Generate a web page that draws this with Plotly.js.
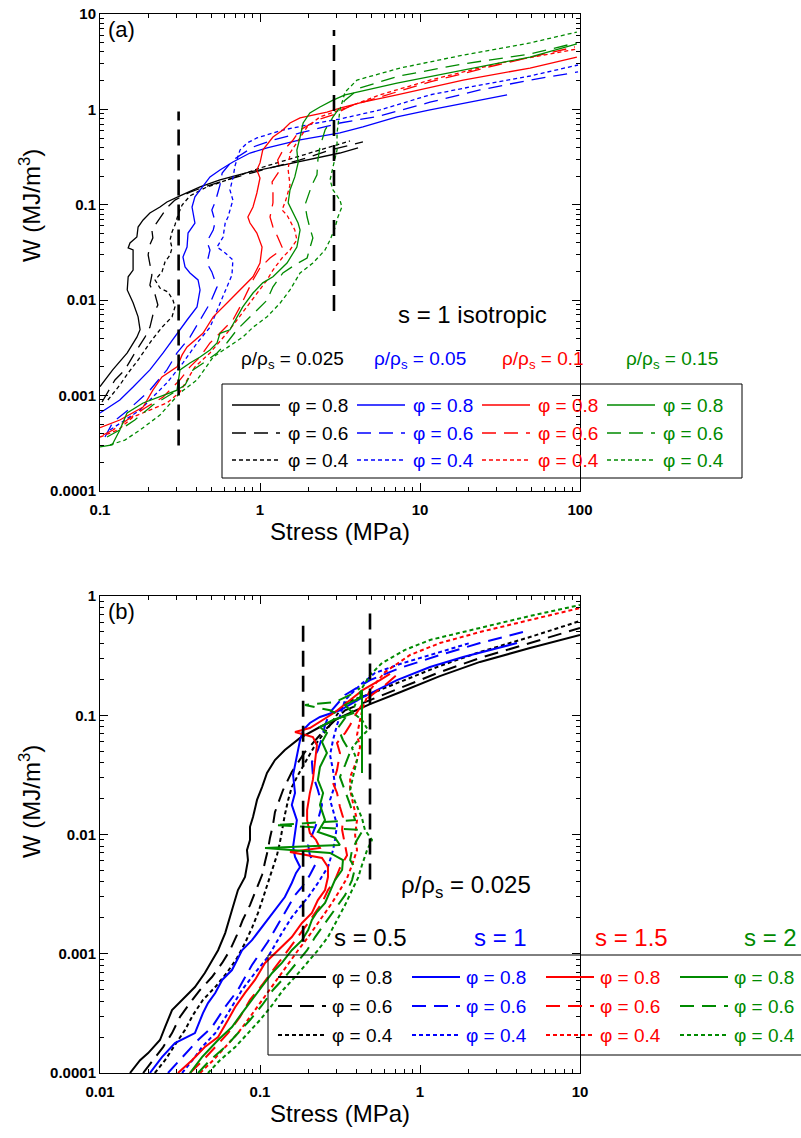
<!DOCTYPE html>
<html>
<head>
<meta charset="utf-8">
<script src="https://cdn.plot.ly/plotly-3.0.1.min.js"></script>
<style>html,body{margin:0;padding:0;background:#fff;}</style>
</head>
<body>
<div id="chart" style="width:801px;height:1138px;"></div>
<script>
// ---------------- Panel (a): s = 1 isotropic ----------------
// rho/rho_s = 0.025 (black)
const aK08x = [0.1,0.12,0.148,0.17,0.178,0.173,0.161,0.148,0.15,0.161,0.161,0.161,0.15,0.154,0.17,0.173,0.186,0.205,0.237,0.262,0.316,0.422,0.562,0.866,1.39,2.27,3.16,4.1];
const aK08y = [0.00124,0.00186,0.0028,0.0041,0.0049,0.0067,0.0094,0.0128,0.0176,0.0207,0.0245,0.0336,0.0353,0.0398,0.046,0.0585,0.0693,0.0821,0.0948,0.107,0.124,0.154,0.182,0.221,0.261,0.309,0.349,0.394];
const aK06x = [0.103,0.124,0.143,0.165,0.191,0.205,0.214,0.23,0.221,0.205,0.211,0.205,0.2,0.205,0.214,0.211,0.227,0.244,0.262,0.294,0.365,0.487,0.75,1.155,1.78,2.74,4.4];
const aK06y = [0.000857,0.00146,0.00186,0.0028,0.0041,0.0052,0.007,0.0089,0.0114,0.0144,0.0184,0.0252,0.0298,0.038,0.045,0.0545,0.066,0.078,0.093,0.112,0.136,0.161,0.2,0.243,0.295,0.375,0.456];
const aK04x = [0.112,0.133,0.15,0.173,0.211,0.244,0.282,0.294,0.286,0.266,0.237,0.221,0.244,0.255,0.274,0.282,0.274,0.282,0.294,0.307,0.326,0.365,0.452,0.649,1.0,1.78,2.74,3.65];
const aK04y = [0.0009,0.00129,0.00173,0.00236,0.00383,0.0052,0.0067,0.0085,0.01,0.0122,0.0134,0.0163,0.0198,0.0252,0.0298,0.0353,0.0428,0.052,0.0614,0.078,0.0995,0.124,0.15,0.187,0.243,0.325,0.403,0.467];
// rho/rho_s = 0.05 (blue)
const aB08x = [0.1,0.133,0.161,0.205,0.248,0.303,0.35,0.404,0.422,0.41,0.365,0.34,0.33,0.35,0.355,0.392,0.381,0.376,0.392,0.422,0.487,0.562,0.677,0.866,1.107,1.78,3.16,4.4,7.18,11.55,18.6,35];
const aB08y = [0.000657,0.0009,0.00123,0.00186,0.0028,0.0045,0.0062,0.0085,0.0128,0.0163,0.0193,0.0223,0.0284,0.0361,0.0506,0.0644,0.082,0.0948,0.121,0.143,0.196,0.232,0.281,0.349,0.394,0.478,0.566,0.654,0.833,0.986,1.16,1.42];
const aB06x = [0.1074,0.1206,0.15,0.205,0.262,0.303,0.365,0.422,0.487,0.539,0.5,0.466,0.487,0.466,0.51,0.525,0.5,0.525,0.562,0.58,0.677,0.904,1.205,1.78,3.16,5.62,11.55,23.7,48.7,97.2];
const aB06y = [0.000368,0.000529,0.000706,0.00114,0.00186,0.0028,0.0041,0.0062,0.0093,0.0138,0.0198,0.0245,0.0336,0.041,0.0545,0.066,0.0882,0.107,0.161,0.215,0.295,0.403,0.478,0.566,0.72,0.853,1.19,1.6,2.03,2.47];
const aB04x = [0.1155,0.143,0.178,0.211,0.262,0.33,0.404,0.487,0.562,0.62,0.668,0.677,0.606,0.539,0.588,0.606,0.631,0.677,0.649,0.677,0.7,0.75,0.83,0.956,1.39,2.27,3.16,5.62,11.55,23.7,48.7,97.2];
const aB04y = [0.000436,0.000555,0.000706,0.000944,0.00136,0.0022,0.00356,0.0052,0.0093,0.0138,0.0184,0.0264,0.0313,0.0361,0.046,0.0644,0.0745,0.112,0.143,0.191,0.261,0.375,0.444,0.502,0.608,0.72,0.793,0.986,1.42,1.8,2.24,2.92];
// rho/rho_s = 0.1 (red)
const aR08x = [0.1,0.133,0.186,0.214,0.244,0.303,0.326,0.35,0.44,0.51,0.62,0.75,0.904,1.0,1.03,0.956,0.866,0.84,0.904,0.956,1.0,0.956,1.0,1.04,1.107,1.205,1.39,1.54,1.78,2.14,2.62,3.16,4.4,7.18,18.6,48.7,95.6];
const aR08y = [0.000462,0.000555,0.00076,0.00114,0.00157,0.002,0.00267,0.00323,0.0045,0.0067,0.0093,0.0128,0.0176,0.0245,0.0361,0.0506,0.0644,0.0745,0.0948,0.133,0.191,0.232,0.275,0.375,0.424,0.513,0.608,0.72,0.813,0.874,0.939,1.03,1.19,1.42,2.03,2.71,3.54];
const aR06x = [0.1044,0.1206,0.1476,0.191,0.248,0.316,0.365,0.422,0.487,0.562,0.677,0.75,0.83,0.904,1.0,1.155,1.276,1.373,1.29,1.205,1.155,1.205,1.205,1.19,1.334,1.29,1.373,1.61,1.78,2.27,2.86,3.65,5.62,11.55,30.3,93];
const aR06y = [0.000386,0.000436,0.000555,0.000741,0.000967,0.00146,0.002,0.00254,0.00356,0.0045,0.0062,0.0085,0.0119,0.0163,0.0218,0.0277,0.0313,0.0361,0.046,0.0585,0.0745,0.105,0.143,0.174,0.232,0.295,0.358,0.478,0.608,0.774,0.874,1.08,1.35,1.94,2.92,4.51];
const aR04x = [0.1,0.1296,0.161,0.205,0.262,0.316,0.35,0.392,0.487,0.62,0.718,0.83,0.956,1.107,1.205,1.373,1.54,1.7,1.65,1.475,1.373,1.45,1.54,1.5,1.54,1.7,1.97,2.37,3.16,5.62,11.55,31.6,95.6];
const aR04y = [0.000368,0.000436,0.000597,0.000706,0.000837,0.00109,0.00146,0.002,0.0028,0.0045,0.0062,0.0085,0.0119,0.0163,0.0207,0.0277,0.0336,0.0428,0.0545,0.078,0.0882,0.112,0.161,0.232,0.349,0.444,0.654,0.833,0.986,1.42,2.03,3.06,4.3];
// rho/rho_s = 0.15 (green)
const aG08x = [0.1,0.119,0.133,0.1476,0.186,0.237,0.303,0.316,0.365,0.422,0.487,0.539,0.562,0.649,0.718,0.78,0.904,1.04,1.205,1.475,1.7,1.78,1.73,1.61,1.5,1.54,1.65,1.73,1.7,1.78,1.86,2.05,2.37,2.86,3.4,7.18,18.6,48.7,95.6];
const aG08y = [0.00029,0.000304,0.000436,0.000657,0.000837,0.000967,0.00114,0.00186,0.0022,0.00254,0.003,0.00356,0.0045,0.0049,0.0067,0.0085,0.0119,0.0152,0.0176,0.0245,0.0361,0.0545,0.0644,0.082,0.105,0.143,0.196,0.275,0.375,0.513,0.72,0.917,1.06,1.25,1.42,1.89,2.59,3.54,4.85];
const aG06x = [0.1106,0.133,0.165,0.214,0.274,0.34,0.381,0.452,0.539,0.62,0.718,0.83,0.956,1.107,1.205,1.39,1.65,1.97,2.05,2.14,2.05,1.97,1.91,2.0,2.11,2.27,2.3,2.37,2.55,2.86,3.4,4.22,7.5,18.6,48.7,95.6];
const aG06y = [0.000368,0.000436,0.000555,0.000797,0.00102,0.00129,0.00186,0.00225,0.0028,0.00356,0.0049,0.0062,0.0079,0.01,0.0138,0.0193,0.0234,0.0277,0.0353,0.045,0.0571,0.0745,0.0995,0.127,0.161,0.206,0.295,0.403,0.608,0.833,1.25,1.68,2.25,3.0,3.8,5.0];
const aG04x = [0.1155,0.143,0.178,0.237,0.316,0.404,0.51,0.631,0.78,0.904,1.107,1.334,1.54,1.78,2.14,2.55,2.74,2.94,3.07,3.25,3.16,2.86,2.74,2.86,3.03,3.03,3.16,3.4,4.04,7.5,18.6,48.7,95.6];
const aG04y = [0.000304,0.000342,0.000436,0.000626,0.00107,0.00146,0.00254,0.00323,0.0041,0.0052,0.0067,0.0093,0.0128,0.0193,0.0245,0.0336,0.0428,0.0571,0.0745,0.0948,0.112,0.143,0.182,0.25,0.375,0.566,0.986,1.52,2.03,2.71,3.71,4.97,6.47];
// vertical reference lines (a)
const aRef1x = [0.31,0.31], aRef1y = [0.0003,0.95];
const aRef2x = [2.9,2.9],   aRef2y = [0.0077,6.8];

// ---------------- Panel (b): rho/rho_s = 0.025 ----------------
// s = 0.5 (black)
const bK08x = [0.0154,0.0178,0.02,0.0237,0.0255,0.0282,0.034,0.0392,0.0452,0.0501,0.0547,0.0606,0.0631,0.0677,0.0728,0.0806,0.0841,0.0829,0.0866,0.0866,0.0904,0.0958,0.103,0.1106,0.124,0.143,0.178,0.237,0.34,0.487,0.75,1.33,2.37,4.87,10];
const bK08y = [0.0001,0.000128,0.000147,0.000189,0.000243,0.000337,0.000434,0.000526,0.00069,0.000886,0.00107,0.00149,0.00181,0.00247,0.00342,0.0044,0.0061,0.0074,0.009,0.0116,0.014,0.0195,0.025,0.0328,0.0421,0.0511,0.0645,0.0797,0.1,0.124,0.156,0.213,0.28,0.366,0.471];
const bK06x = [0.0186,0.0214,0.0248,0.0282,0.0316,0.0365,0.0422,0.0501,0.058,0.0649,0.0718,0.078,0.0866,0.0944,0.103,0.1075,0.112,0.1155,0.1205,0.124,0.1296,0.1393,0.158,0.191,0.237,0.34,0.487,0.75,1.33,2.37,4.87,10];
const bK06y = [0.0001,0.000128,0.000165,0.000216,0.000295,0.000386,0.000497,0.000638,0.000837,0.00107,0.00144,0.00192,0.00256,0.00342,0.00457,0.0059,0.0074,0.0094,0.012,0.0154,0.0184,0.0236,0.0334,0.0492,0.0683,0.11,0.134,0.169,0.23,0.302,0.403,0.539];
const bK04x = [0.022,0.0255,0.0294,0.034,0.0381,0.044,0.0525,0.062,0.0718,0.0806,0.0891,0.0972,0.1044,0.112,0.1205,0.1276,0.133,0.137,0.143,0.15,0.158,0.173,0.191,0.221,0.274,0.34,0.487,0.75,1.33,2.37,4.87,10];
const bK04y = [0.0001,0.000128,0.000172,0.00023,0.000306,0.00041,0.000526,0.00069,0.000921,0.00123,0.00165,0.0022,0.00293,0.00392,0.00524,0.0067,0.0085,0.0109,0.0146,0.0195,0.025,0.0316,0.0398,0.0563,0.0828,0.127,0.151,0.19,0.259,0.339,0.453,0.617];
// s = 1 (blue)
const bB08x = [0.0205,0.0244,0.0294,0.0392,0.044,0.0473,0.0525,0.058,0.0668,0.0772,0.0891,0.1075,0.124,0.143,0.158,0.168,0.178,0.1655,0.161,0.1655,0.17,0.158,0.1655,0.161,0.17,0.178,0.186,0.205,0.237,0.316,0.44,0.718,1.155,1.86,4.04];
const bB08y = [0.0001,0.000136,0.000178,0.000216,0.000318,0.000386,0.000469,0.000603,0.00073,0.00107,0.0013,0.00181,0.00233,0.00299,0.00392,0.00476,0.00534,0.0065,0.0079,0.0099,0.0132,0.0177,0.0223,0.0316,0.0447,0.062,0.0752,0.0861,0.0967,0.11,0.142,0.197,0.254,0.308,0.403];
const bB06x = [0.0266,0.0326,0.041,0.0501,0.0606,0.0728,0.0891,0.112,0.133,0.1655,0.183,0.205,0.221,0.205,0.2,0.211,0.23,0.244,0.23,0.214,0.211,0.23,0.244,0.255,0.274,0.34,0.487,0.75,1.33,2.37,4.4];
const bB06y = [0.0001,0.000136,0.000189,0.000243,0.000358,0.000497,0.000805,0.00126,0.00185,0.0031,0.00363,0.00457,0.00555,0.0067,0.00817,0.0099,0.0132,0.0177,0.0236,0.0316,0.0406,0.0511,0.0645,0.0828,0.106,0.148,0.197,0.249,0.32,0.403,0.499];
const bB04x = [0.0326,0.0392,0.0434,0.0525,0.0631,0.0772,0.093,0.112,0.137,0.158,0.2,0.23,0.266,0.286,0.294,0.303,0.286,0.274,0.294,0.286,0.274,0.286,0.303,0.34,0.422,0.523,0.75,1.33,2.05];
const bB04y = [0.0001,0.000136,0.000165,0.000216,0.000318,0.000497,0.00069,0.000939,0.00149,0.00203,0.00299,0.00392,0.00534,0.0074,0.009,0.012,0.016,0.0195,0.026,0.0347,0.0464,0.062,0.0828,0.134,0.179,0.226,0.269,0.339,0.403];
// s = 1.5 (red)
const bR08x = [0.0307,0.0376,0.0452,0.0547,0.0631,0.07,0.0806,0.093,0.1075,0.1296,0.158,0.183,0.211,0.23,0.255,0.266,0.266,0.244,0.154,0.237,0.224,0.205,0.197,0.197,0.205,0.214,0.221,0.227,0.214,0.1655,0.205,0.237,0.294,0.366,0.44,0.562,0.649];
const bR08y = [0.0001,0.000128,0.000165,0.0002,0.000278,0.000358,0.000469,0.000603,0.000837,0.00107,0.00138,0.00181,0.0022,0.00282,0.00342,0.0044,0.00534,0.00635,0.00713,0.0077,0.009,0.0103,0.0132,0.016,0.0223,0.0287,0.0421,0.0563,0.0657,0.0724,0.0782,0.0878,0.106,0.134,0.163,0.197,0.222];
const bR06x = [0.0365,0.044,0.0525,0.0631,0.075,0.0866,0.103,0.124,0.15,0.173,0.2,0.244,0.266,0.294,0.316,0.35,0.34,0.326,0.33,0.316,0.303,0.286,0.303,0.316,0.303,0.34,0.366,0.393,0.453,0.604,0.75];
const bR06y = [0.0001,0.000128,0.000165,0.000216,0.000295,0.00041,0.000547,0.00076,0.00107,0.00138,0.00181,0.00267,0.00342,0.00415,0.00524,0.0067,0.00817,0.0109,0.014,0.017,0.0223,0.027,0.0347,0.0482,0.0585,0.0709,0.0828,0.1,0.134,0.179,0.23];
const bR04x = [0.0422,0.051,0.0606,0.0728,0.0866,0.103,0.1205,0.143,0.173,0.2,0.23,0.282,0.316,0.35,0.376,0.404,0.393,0.404,0.381,0.366,0.366,0.404,0.422,0.404,0.422,0.44,0.487,0.604,0.866,1.33,2.37,4.87,10];
const bR04y = [0.0001,0.000128,0.000165,0.000216,0.000295,0.00041,0.000547,0.00076,0.00107,0.00138,0.00181,0.00267,0.00342,0.00432,0.00555,0.0074,0.0099,0.0132,0.0184,0.0236,0.0304,0.0421,0.0542,0.0683,0.0912,0.117,0.163,0.23,0.32,0.403,0.499,0.629,0.793];
// s = 2 (green)
const bG08x = [0.0365,0.0434,0.0547,0.0668,0.0772,0.0891,0.103,0.119,0.137,0.158,0.183,0.2,0.211,0.227,0.255,0.294,0.326,0.33,0.274,0.1075,0.316,0.294,0.23,0.255,0.237,0.248,0.23,0.237,0.262,0.244,0.262,0.237,0.286,0.381,0.34,0.422,0.434,0.434];
const bG08y = [0.0001,0.000136,0.000189,0.000243,0.000318,0.00041,0.000526,0.00069,0.000837,0.00107,0.0013,0.00158,0.00192,0.00224,0.00267,0.00415,0.00504,0.0061,0.007,0.0077,0.00817,0.0094,0.0105,0.0132,0.0177,0.0223,0.0287,0.0368,0.0482,0.0597,0.0709,0.0797,0.0912,0.104,0.122,0.14,0.163,0.0328];
const bG06x = [0.041,0.0487,0.0606,0.0728,0.0866,0.103,0.1205,0.143,0.17,0.197,0.221,0.255,0.294,0.34,0.376,0.393,0.366,0.376,0.404,0.44,0.124,0.393,0.366,0.34,0.316,0.34,0.366,0.33,0.307,0.34,0.274,0.191,0.294,0.366,0.422];
const bG06y = [0.0001,0.000128,0.000165,0.000216,0.000278,0.00037,0.000497,0.000638,0.000837,0.00107,0.00138,0.00181,0.00233,0.0031,0.00415,0.00524,0.0061,0.0074,0.009,0.0109,0.012,0.0132,0.0177,0.0236,0.0304,0.0382,0.0492,0.062,0.0782,0.0948,0.11,0.122,0.129,0.148,0.169];
const bG04x = [0.0473,0.0562,0.07,0.0841,0.1,0.119,0.1393,0.1655,0.197,0.23,0.266,0.303,0.34,0.376,0.41,0.434,0.467,0.501,0.453,0.434,0.404,0.366,0.381,0.404,0.376,0.422,0.473,0.434,0.376,0.404,0.434,0.487,0.579,0.806,1.155,1.86,3.02,4.87,10];
const bG04y = [0.0001,0.000128,0.000165,0.000216,0.000278,0.00037,0.000497,0.000638,0.000837,0.00107,0.00138,0.00192,0.00256,0.00342,0.00432,0.00555,0.0074,0.009,0.0109,0.0137,0.017,0.0236,0.0304,0.0421,0.0531,0.0645,0.0752,0.0912,0.106,0.134,0.169,0.217,0.274,0.353,0.428,0.499,0.582,0.68,0.84];
// vertical reference lines (b)
const bRef1x = [0.186,0.186], bRef1y = [0.00126,0.654];
const bRef2x = [0.487,0.487], bRef2y = [0.0042,0.72];

// ---------------- tick labels & legend text ----------------
const xTickValsA = [0.1,1,10,100],   xTickTextA = ['0.1','1','10','100'];
const yTickValsA = [0.0001,0.001,0.01,0.1,1,10], yTickTextA = ['0.0001','0.001','0.01','0.1','1','10'];
const xTickValsB = [0.01,0.1,1,10],  xTickTextB = ['0.01','0.1','1','10'];
const yTickValsB = [0.0001,0.001,0.01,0.1,1], yTickTextB = ['0.0001','0.001','0.01','0.1','1'];
const phiLabels = ['φ = 0.8','φ = 0.6','φ = 0.4'];
const headersA = ['ρ/ρ<sub>s</sub> = 0.025','ρ/ρ<sub>s</sub> = 0.05','ρ/ρ<sub>s</sub> = 0.1','ρ/ρ<sub>s</sub> = 0.15'];
const headersB = ['s = 0.5','s = 1','s = 1.5','s = 2'];

// ---------------- styling ----------------
const FONT = 'Liberation Sans, Arial, Helvetica, sans-serif';
const COL = ['#000000','#0000ff','#ff0000','#008a00'];
const DASH = ['solid','14px,8px','4px,3px'];
const W = 801, H = 1138, ML = 100, MR = 221, MT = 14, MB = 65;
const PW = W - ML - MR, PH = H - MT - MB;
const PX = v => (v - ML) / PW;
const PY = v => (H - MB - v) / PH;

const seriesA = [
  [aK08x,aK08y,0,0],[aK06x,aK06y,0,1],[aK04x,aK04y,0,2],
  [aB08x,aB08y,1,0],[aB06x,aB06y,1,1],[aB04x,aB04y,1,2],
  [aR08x,aR08y,2,0],[aR06x,aR06y,2,1],[aR04x,aR04y,2,2],
  [aG08x,aG08y,3,0],[aG06x,aG06y,3,1],[aG04x,aG04y,3,2]
];
const seriesB = [
  [bK08x,bK08y,0,0],[bK06x,bK06y,0,1],[bK04x,bK04y,0,2],
  [bB08x,bB08y,1,0],[bB06x,bB06y,1,1],[bB04x,bB04y,1,2],
  [bR08x,bR08y,2,0],[bR06x,bR06y,2,1],[bR04x,bR04y,2,2],
  [bG08x,bG08y,3,0],[bG06x,bG06y,3,1],[bG04x,bG04y,3,2]
];

const traces = [];
seriesA.forEach(s => traces.push({x:s[0], y:s[1], xaxis:'x', yaxis:'y', type:'scatter', mode:'lines',
  line:{color:COL[s[2]], dash:DASH[s[3]], width:1.3}, hoverinfo:'skip'}));
seriesB.forEach(s => traces.push({x:s[0], y:s[1], xaxis:'x2', yaxis:'y2', type:'scatter', mode:'lines',
  line:{color:COL[s[2]], dash:DASH[s[3]], width:2}, hoverinfo:'skip'}));
[[aRef1x,aRef1y,'x','y'],[aRef2x,aRef2y,'x','y'],[bRef1x,bRef1y,'x2','y2'],[bRef2x,bRef2y,'x2','y2']].forEach(r =>
  traces.push({x:r[0], y:r[1], xaxis:r[2], yaxis:r[3], type:'scatter', mode:'lines',
    line:{color:'#000', dash:'16px,9px', width:2.6}, hoverinfo:'skip'}));

function axis(extra) {
  return Object.assign({
    type:'log', showline:true, linecolor:'#000', linewidth:1, mirror:'allticks',
    ticks:'inside', ticklen:8, tickwidth:1, tickcolor:'#000', showgrid:false, zeroline:false,
    tickmode:'array',
    tickfont:{family:FONT, size:15, color:'#000', weight:700},
    minor:{ticks:'inside', ticklen:4, tickwidth:1, tickcolor:'#000', tickmode:'linear', dtick:'D1', showgrid:false}
  }, extra);
}
const titleFont = {family:FONT, size:24, color:'#000'};

const annotations = [];
const shapes = [];
function ann(text, x, y, size, color, xanchor, angle) {
  annotations.push({xref:'paper', yref:'paper', x:PX(x), y:PY(y), text:text, showarrow:false,
    xanchor:xanchor || 'center', yanchor:'middle', textangle:angle || 0,
    font:{family:FONT, size:size, color:color}});
}
// y-axis titles
ann('W (MJ/m<sup>3</sup>)', 30, 206, 24, '#000', 'center', -90);
ann('W (MJ/m<sup>3</sup>)', 30, 802, 24, '#000', 'center', -90);
// panel labels & notes
ann('(a)', 106, 29, 22, '#000', 'left');
ann('(b)', 106, 611, 22, '#000', 'left');
ann('s = 1 isotropic', 472, 314, 24, '#000');
ann('ρ/ρ<sub>s</sub> = 0.025', 466, 886, 24, '#000');
// headers
const headAx = [292, 420, 543, 672];
headersA.forEach((t,i) => ann(t, headAx[i], 360, 19, COL[i]));
const headBx = [370, 500, 631, 770];
headersB.forEach((t,i) => ann(t, headBx[i], 937, 24, COL[i]));

// legend boxes with line samples
function legend(box, x0, dx, len, rows, gap, size, width) {
  shapes.push({type:'rect', xref:'paper', yref:'paper', x0:PX(box[0]), x1:PX(box[2]), y0:PY(box[3]), y1:PY(box[1]),
    line:{color:'#000', width:1}, fillcolor:'rgba(0,0,0,0)'});
  for (let c = 0; c < 4; c++) {
    for (let r = 0; r < 3; r++) {
      const xs = x0 + c*dx;
      shapes.push({type:'line', xref:'paper', yref:'paper', x0:PX(xs), x1:PX(xs+len), y0:PY(rows[r]), y1:PY(rows[r]),
        line:{color:COL[c], width:width, dash:DASH[r]}});
      ann(phiLabels[r], xs + gap, rows[r], size, COL[c], 'left');
    }
  }
}
legend([222,384,742,478], 232, 125, 48, [405,433,460], 54, 19, 1.3);
legend([268,955,840,1055], 278, 134, 48, [977,1006,1035], 52, 19, 2);

const layout = {
  width:W, height:H, margin:{l:ML, r:MR, t:MT, b:MB}, showlegend:false,
  paper_bgcolor:'#fff', plot_bgcolor:'#fff',
  xaxis: axis({domain:[0,1], anchor:'y', range:[-1,2], tickvals:xTickValsA, ticktext:xTickTextA, ticklabelstandoff:5,
    title:{text:'Stress (MPa)', font:titleFont, standoff:6}}),
  yaxis: axis({domain:[PY(491),1], anchor:'x', range:[-4,1], tickvals:yTickValsA, ticktext:yTickTextA}),
  xaxis2: axis({domain:[0,1], anchor:'y2', range:[-2,1], tickvals:xTickValsB, ticktext:xTickTextB, ticklabelstandoff:5,
    title:{text:'Stress (MPa)', font:titleFont, standoff:6}}),
  yaxis2: axis({domain:[0,PY(596)], anchor:'x2', range:[-4,0], tickvals:yTickValsB, ticktext:yTickTextB}),
  annotations:annotations, shapes:shapes
};
Plotly.newPlot('chart', traces, layout, {displayModeBar:false, staticPlot:true});
</script>
</body>
</html>
